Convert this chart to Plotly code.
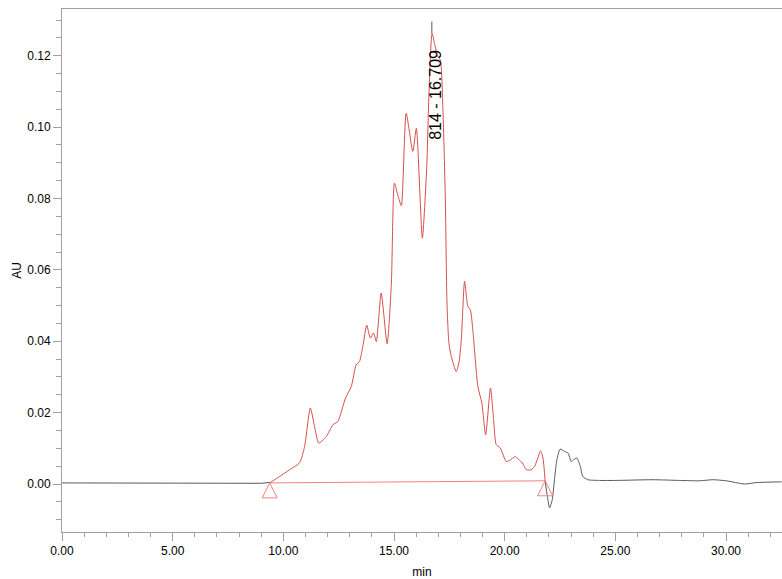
import plotly.graph_objects as go

# ---- data ----
pre_t = [0.0, 2.0, 4.0, 6.0, 8.0, 9.0]
pre_au = [0.0003, 0.0003, 0.0002, 0.0002, 0.0002, 0.0002]

peak_t = [9.42, 9.83, 10.28, 10.73, 10.96, 11.22, 11.41, 11.60, 11.94, 12.24, 12.46,
          12.81, 13.07, 13.29, 13.44, 13.59, 13.77, 13.93, 14.08, 14.20, 14.42,
          14.69, 14.88, 15.02, 15.17, 15.33, 15.55, 15.85, 16.01, 16.28, 16.48,
          16.57, 16.72, 16.83, 16.98, 17.09, 17.21, 17.32, 17.39, 17.48, 17.59,
          17.81, 17.93, 18.04, 18.19, 18.34, 18.45, 18.56, 18.79, 18.97, 19.14,
          19.36, 19.50, 19.62, 19.80, 20.07, 20.22, 20.49, 20.64, 20.80, 20.98,
          21.20, 21.35, 21.50, 21.62, 21.73, 21.83]
peak_au = [0.00045, 0.0021, 0.0040, 0.0059, 0.0105, 0.0213, 0.0161, 0.0115, 0.0133, 0.0166, 0.0175,
           0.0241, 0.0273, 0.0334, 0.0343, 0.0385, 0.0445, 0.0409, 0.0423, 0.0399, 0.0535,
           0.0393, 0.0561, 0.0843, 0.0810, 0.0780, 0.1039, 0.0932, 0.0997, 0.0689, 0.0890,
           0.1076, 0.1263, 0.1235, 0.1197, 0.1189, 0.1049, 0.0796, 0.0516, 0.0395, 0.0357,
           0.0315, 0.0339, 0.0404, 0.0568, 0.0497, 0.0488, 0.0432, 0.0273, 0.0227, 0.0138,
           0.0269, 0.0180, 0.0110, 0.0101, 0.0063, 0.0066, 0.0077, 0.0068, 0.0059, 0.0040,
           0.0040, 0.0049, 0.0073, 0.0093, 0.0073, 0.0007]

post_t = [21.93, 22.03, 22.15, 22.25, 22.36, 22.51, 22.71, 22.86, 23.01, 23.11,
          23.26, 23.42, 23.53, 23.76, 24.29, 25.04, 26.70, 27.90, 28.81, 29.41,
          30.01, 30.84, 31.37, 32.51]
post_au = [-0.0035, -0.0067, -0.0044, 0.0012, 0.0068, 0.0098, 0.0091, 0.0087, 0.0063, 0.0068,
           0.0073, 0.0049, 0.0021, 0.0012, 0.0010, 0.0010, 0.0012, 0.0010, 0.0009, 0.0012,
           0.0009, 0.0000, 0.0004, 0.0006]

baseline_t = [9.38, 21.83]
baseline_au = [0.0003, 0.0009]

apex_rt = 16.709
apex_label = "814 - 16.709"
apex_au = [0.1263, 0.1296]
label_au = 0.109

x_ticks = [0, 5, 10, 15, 20, 25, 30]
y_ticks = [0.00, 0.02, 0.04, 0.06, 0.08, 0.10, 0.12]

# ---- figure ----
RED = "rgb(216,78,78)"
PINK = "rgb(246,128,128)"
GREY = "rgb(90,90,90)"
AXIS = "rgb(160,160,160)"
FONT = "Liberation Sans, Arial"

fig = go.Figure()
# unintegrated parts of the trace (joined to the ends of the integrated peak)
fig.add_trace(go.Scatter(x=pre_t + peak_t[:1], y=pre_au + peak_au[:1], mode="lines",
                         line=dict(color=GREY, width=1), hoverinfo="skip"))
fig.add_trace(go.Scatter(x=peak_t[-1:] + post_t, y=peak_au[-1:] + post_au, mode="lines",
                         line=dict(color=GREY, width=1, shape="spline", smoothing=0.6),
                         hoverinfo="skip"))
fig.add_trace(go.Scatter(x=[apex_rt, apex_rt], y=apex_au, mode="lines",
                         line=dict(color=GREY, width=1), hoverinfo="skip"))
fig.add_trace(go.Scatter(x=baseline_t, y=baseline_au, mode="lines",
                         line=dict(color=PINK, width=1), hoverinfo="skip"))
fig.add_trace(go.Scatter(x=peak_t, y=peak_au, mode="lines",
                         line=dict(color=RED, width=1, shape="spline", smoothing=0.6),
                         hoverinfo="skip"))

for bt, ba in zip(baseline_t, baseline_au):
    fig.add_shape(type="path", xref="x", yref="y",
                  xsizemode="pixel", ysizemode="pixel",
                  xanchor=bt, yanchor=ba,
                  path="M-7.5,-15 L0,0 L7.5,-15 Z",
                  line=dict(color=PINK, width=1), fillcolor="rgba(0,0,0,0)")

fig.add_annotation(x=apex_rt, y=label_au, xref="x", yref="y", text=apex_label,
                   textangle=-90, showarrow=False, xshift=3,
                   font=dict(family=FONT, size=16, color="black"))

axis_common = dict(showline=True, linecolor=AXIS, linewidth=1, mirror=True,
                   ticks="outside", tickcolor=AXIS, ticklen=8, tickwidth=1,
                   showgrid=False, zeroline=False,
                   tickfont=dict(family=FONT, size=12, color="black"))

fig.update_xaxes(range=[0, 32.53], tickvals=x_ticks, tickformat=".2f",
                 minor=dict(dtick=1, ticks="outside", ticklen=4, tickcolor=AXIS, showgrid=False),
                 title=dict(text="min", standoff=12,
                            font=dict(family=FONT, size=12, color="black")),
                 **axis_common)
fig.update_yaxes(range=[-0.01345, 0.1331], tickvals=y_ticks, tickformat=".2f",
                 minor=dict(dtick=0.005, tick0=0, ticks="outside", ticklen=5, tickcolor=AXIS, showgrid=False),
                 title=dict(text="AU", standoff=3,
                            font=dict(family=FONT, size=12, color="black")),
                 **axis_common)

fig.update_layout(width=782, height=579, showlegend=False,
                  margin=dict(l=62, r=0, t=9, b=47),
                  plot_bgcolor="white", paper_bgcolor="white")

fig.write_html("out.html")
